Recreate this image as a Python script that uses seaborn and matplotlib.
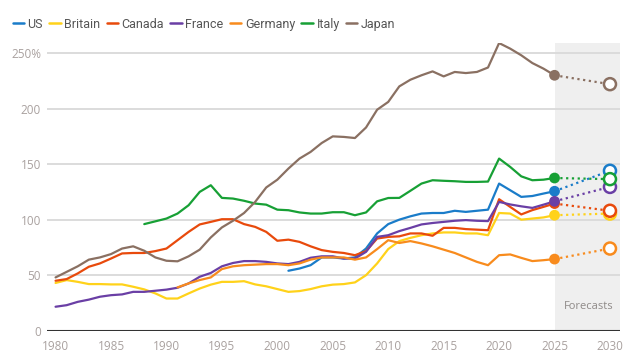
import numpy as np
import pandas as pd
import matplotlib
matplotlib.use("Agg")
import matplotlib.pyplot as plt
from matplotlib.lines import Line2D
import seaborn as sns

# debt as % of GDP
countries = ["US", "Britain", "Canada", "France", "Germany", "Italy", "Japan"]
colors = ["#1a7cc9", "#ffd21a", "#e84a0c", "#6a3fa5", "#f88b1d", "#17a035", "#8a7062"]

us_start = 2001
us = [54, 56, 59, 66, 66, 65, 66, 74, 87.6,
      96, 100, 103, 105.5, 106, 106, 108, 107, 108, 109,
      132.5, 126.5, 120.5, 121.3, 123.5, 125.6]
britain_start = 1980
britain = [43, 45.6, 44, 42, 42, 41.7, 41.7, 39.6, 37.2, 33.6,
           29, 29, 33.6, 38, 41.5, 44, 44, 44.6, 41.7, 40,
           37.5, 35, 35.7, 37.5, 40, 41.5, 42, 43.5, 50, 60.6,
           73.5, 80.7, 83.6, 86, 87.6, 88.5, 88.5, 87.6, 87.6, 86,
           106, 105.5, 100, 101, 102, 104]
canada_start = 1980
canada = [45, 46.5, 51.6, 57.6, 60.6, 65, 69.6, 70, 70, 71.7,
          74, 81.5, 89, 95.7, 98, 100.4, 100.4, 96, 93.5, 89,
          81, 82, 80, 76, 72.6, 71, 70, 68, 71.7, 83,
          84.5, 85, 87.6, 87.6, 85.5, 92.6, 92.6, 91.5, 91, 90.5,
          118.4, 111.5, 104.7, 108.6, 111.5, 114.5]
france_start = 1980
france = [21.6, 23, 26, 28, 30.6, 32, 32.7, 35, 35, 36,
          37, 38.7, 42.6, 48.6, 52, 58, 61, 62.7, 62.7, 62,
          60.6, 60, 62, 65.7, 67, 67, 65, 65, 71, 84.5,
          86, 89.7, 92.6, 95.7, 97, 98, 99, 99.6, 99, 98.7,
          116, 113.7, 112, 110.6, 113.5, 116.5]
germany_start = 1991
germany = [39, 42.6, 45.6, 48, 55.5, 58, 59, 59.5, 60,
           60, 59, 60.6, 64, 66, 66, 66, 64, 66, 73.5,
           81.5, 79, 80.7, 78.6, 76, 73, 70, 66, 62, 59,
           68, 68.7, 65.6, 62.7, 63.5, 64.5]
italy_start = 1988
italy = [96, 98.5, 101, 105.5, 113, 125, 131, 119.6, 119, 117, 114.5, 113.5,
         109, 108.5, 106.5, 105.5, 105.5, 106.7, 106.7, 104, 106.5, 116.5,
         119.5, 119.6, 126, 132.5, 135.5, 135, 134.6, 134, 134, 134.3,
         155, 147.5, 139, 135.5, 136, 137.5]
japan_start = 1980
japan = [48, 53, 58, 64, 66, 69, 74, 76, 72, 66,
         63, 62.5, 67, 73, 84, 93, 99, 106, 116, 129,
         136, 146, 155, 161, 169, 175, 174.5, 173.5, 183, 199,
         206, 220, 226, 230, 233.5, 229, 233, 232, 233, 237,
         259, 254, 248, 241, 236, 230]

forecast_2030 = [144, 105.5, 108, 129.5, 74, 136.5, 222]

series = [(us_start, us), (britain_start, britain), (canada_start, canada),
          (france_start, france), (germany_start, germany),
          (italy_start, italy), (japan_start, japan)]

rows = []
for name, (start, vals) in zip(countries, series):
    for i, v in enumerate(vals):
        rows.append({"year": start + i, "value": v, "country": name})
df = pd.DataFrame(rows)

last = df[df["year"] == 2025].set_index("country").loc[countries].reset_index()
fc = pd.DataFrame({"country": countries, "year": 2030, "value": forecast_2030})
fc_lines = pd.concat([last, fc], ignore_index=True)

palette = dict(zip(countries, colors))
grey_txt = "#a9a19f"

sns.set_style("white")
plt.rcParams["font.family"] = ["Open Sans", "DejaVu Sans"]

fig = plt.figure(figsize=(6.31, 3.56), dpi=100)
ax = fig.add_axes([0.074, 0.071, 0.9085, 0.808])

# shaded forecast area
ax.axvspan(2025, 2031, color="#efefef", lw=0, zorder=0)
for y in [50, 100, 150, 200, 250]:
    ax.axhline(y, color="#d9d9d9", lw=1.3, zorder=0.5)
ax.axhline(0, color="#333333", lw=1.5, zorder=1)

sns.lineplot(data=df, x="year", y="value", hue="country", hue_order=countries,
             palette=palette, lw=1.6, legend=False, ax=ax, zorder=3)
sns.lineplot(data=fc_lines, x="year", y="value", hue="country", hue_order=countries,
             palette=palette, lw=1.6, linestyle=(0, (1, 1.6)), legend=False, ax=ax, zorder=3)
sns.scatterplot(data=last, x="year", y="value", hue="country", hue_order=countries,
                palette=palette, s=60, linewidth=0, legend=False, ax=ax, zorder=4)
sns.scatterplot(data=fc, x="year", y="value", hue="country", hue_order=countries,
                palette=palette, s=75, legend=False, ax=ax, zorder=4)
# open circles for 2030
ax.collections[-1].set_facecolor("white")
ax.collections[-1].set_edgecolor(colors)
ax.collections[-1].set_linewidth(1.8)

ax.set_xlim(1979.2, 2030.9)
ax.set_ylim(0, 259)
ax.set_xticks(range(1980, 2031, 5))
ax.set_yticks([0, 50, 100, 150, 200, 250])
ax.set_yticklabels(["0", "50", "100", "150", "200", "250%"])
ax.tick_params(axis="both", length=0, labelsize=8.5, labelcolor=grey_txt)
ax.tick_params(axis="x", pad=7)
ax.tick_params(axis="y", pad=4)
ax.set_xlabel("")
ax.set_ylabel("")
sns.despine(ax=ax, left=True, bottom=True)

ax.text(2028.05, 21.6, "Forecasts", ha="center", va="center", fontsize=8,
        color="#8f8a88")

handles = [Line2D([0], [0], color=c, lw=1.8) for c in colors]
fig.legend(handles, countries, loc="upper left", bbox_to_anchor=(0.002, 0.982),
           ncol=7, frameon=False, handlelength=0.9,
           handletextpad=0.3, columnspacing=0.5, labelcolor="#555555",
           prop={"family": ["Roboto", "DejaVu Sans"], "size": 9})

fig.savefig("out.png", dpi=100)
